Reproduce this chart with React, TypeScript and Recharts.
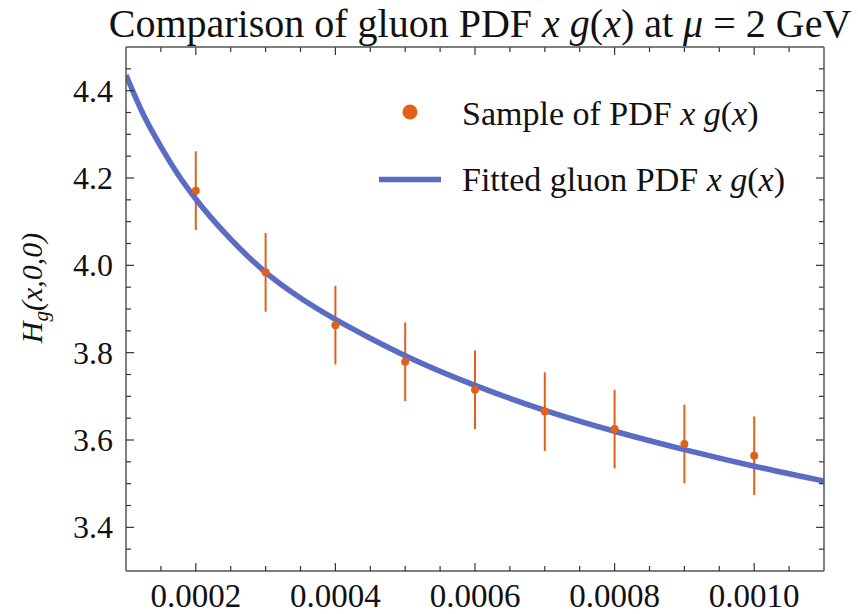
import React from 'react'
import { ComposedChart, Line, Scatter, ErrorBar, XAxis, YAxis } from 'recharts'

// sampled PDF points with error bars
const sampleX = [0.0002, 0.0003, 0.0004, 0.0005, 0.0006, 0.0007, 0.0008, 0.0009, 0.001]
const sampleY = [4.171, 3.984, 3.863, 3.779, 3.715, 3.665, 3.625, 3.591, 3.564]
const sampleErr = [0.09, 0.09, 0.09, 0.09, 0.09, 0.09, 0.09, 0.09, 0.09]

// fitted curve
const fitX = [0.0001, 0.000125, 0.00015, 0.000175, 0.0002, 0.00025, 0.0003, 0.00035, 0.0004, 0.00045, 0.0005, 0.0006, 0.0007, 0.0008, 0.0009, 0.001, 0.0011]
const fitY = [4.436, 4.345, 4.272, 4.207, 4.152, 4.06, 3.984, 3.925, 3.876, 3.833, 3.793, 3.725, 3.668, 3.62, 3.578, 3.54, 3.506]

const xMajor = [0.0002, 0.0004, 0.0006, 0.0008, 0.001]
const xMinor = [0.00015, 0.00025, 0.0003, 0.00035, 0.00045, 0.0005, 0.00055, 0.00065, 0.0007, 0.00075, 0.00085, 0.0009, 0.00095, 0.00105]
const yMajor = [3.4, 3.6, 3.8, 4.0, 4.2, 4.4]
const yMinor = [3.35, 3.45, 3.5, 3.55, 3.65, 3.7, 3.75, 3.85, 3.9, 3.95, 4.05, 4.1, 4.15, 4.25, 4.3, 4.35, 4.45]

const X_DOMAIN = [0.0001, 0.0011]
const Y_DOMAIN = [3.3, 4.5]

const points = sampleX.map((x, i) => ({ x, y: sampleY[i], err: sampleErr[i] }))
const curve = fitX.map((x, i) => ({ x, y: fitY[i] }))

const W = 858
const H = 614
const MARGIN = { top: 47, right: 34, bottom: 0, left: 0 }
const Y_AXIS_W = 126
const X_AXIS_H = 43
const PLOT_TOP = MARGIN.top
const PLOT_RIGHT = W - MARGIN.right

const ORANGE = '#e2611a'
const BLUE = '#5b6cc4'
const FRAME = '#555'
const TICK = '#333'
const FONT = 'Liberation Serif, Times New Roman, serif'
const serif = { fontFamily: FONT }

const isMajor = (list: number[], v: number) => list.some((m) => Math.abs(m - v) < 1e-9)

const MAJOR = 8
const MINOR = 5

// bottom tick also mirrors an inward tick onto the top edge of the frame
// eslint-disable-next-line @typescript-eslint/no-explicit-any
const BottomTick = (props: any) => {
  const { x, y, payload } = props
  const major = isMajor(xMajor, payload.value)
  const len = major ? MAJOR : MINOR
  return (
    <g>
      <line x1={x} y1={y} x2={x} y2={y - len} stroke={TICK} strokeWidth={1.2} />
      <line x1={x} y1={PLOT_TOP} x2={x} y2={PLOT_TOP + len} stroke={TICK} strokeWidth={1.2} />
      {major && (
        <text x={x} y={y + 36} textAnchor="middle" fontSize={33} style={serif} fill="#111">
          {payload.value.toFixed(4)}
        </text>
      )}
    </g>
  )
}

// left tick also mirrors an inward tick onto the right edge of the frame
// eslint-disable-next-line @typescript-eslint/no-explicit-any
const LeftTick = (props: any) => {
  const { x, y, payload } = props
  const major = isMajor(yMajor, payload.value)
  const len = major ? MAJOR : MINOR
  return (
    <g>
      <line x1={x} y1={y} x2={x + len} y2={y} stroke={TICK} strokeWidth={1.2} />
      <line x1={PLOT_RIGHT} y1={y} x2={PLOT_RIGHT - len} y2={y} stroke={TICK} strokeWidth={1.2} />
      {major && (
        <text x={x - 13} y={y + 11} textAnchor="end" fontSize={32} style={serif} fill="#111">
          {payload.value.toFixed(1)}
        </text>
      )}
    </g>
  )
}

// eslint-disable-next-line @typescript-eslint/no-explicit-any
const Dot = (props: any) => <circle cx={props.cx} cy={props.cy} r={4} fill={ORANGE} />

export default function App() {
  const xTicks = [...xMajor, ...xMinor].sort((a, b) => a - b)
  const yTicks = [...yMajor, ...yMinor].sort((a, b) => a - b)
  const axisLine = { stroke: FRAME, strokeWidth: 1.5 }

  return (
    <div style={{ position: 'relative', width: W, height: H, background: '#fff' }}>
      <style>{'body{margin:0}'}</style>
      <ComposedChart width={W} height={H} margin={MARGIN}>
        <XAxis
          xAxisId="b"
          type="number"
          dataKey="x"
          domain={X_DOMAIN}
          allowDataOverflow
          ticks={xTicks}
          interval={0}
          tickSize={0}
          tickMargin={0}
          tickLine={false}
          axisLine={axisLine}
          tick={<BottomTick />}
          height={X_AXIS_H}
        />
        <YAxis
          yAxisId="l"
          type="number"
          domain={Y_DOMAIN}
          allowDataOverflow
          ticks={yTicks}
          interval={0}
          tickSize={0}
          tickMargin={0}
          tickLine={false}
          axisLine={axisLine}
          tick={<LeftTick />}
          width={Y_AXIS_W}
        />
        <Scatter
          xAxisId="b"
          yAxisId="l"
          data={points}
          dataKey="y"
          shape={<Dot />}
          isAnimationActive={false}
        >
          <ErrorBar dataKey="err" direction="y" width={0} stroke={ORANGE} strokeWidth={2} isAnimationActive={false} />
        </Scatter>
        <Line
          xAxisId="b"
          yAxisId="l"
          data={curve}
          dataKey="y"
          type="monotone"
          stroke={BLUE}
          strokeWidth={5.5}
          dot={false}
          isAnimationActive={false}
        />
      </ComposedChart>

      <svg
        width={W}
        height={H}
        style={{ position: 'absolute', left: 0, top: 0, pointerEvents: 'none', fontFamily: FONT }}
      >
        {/* top and right sides of the frame */}
        <line x1={Y_AXIS_W} y1={PLOT_TOP} x2={PLOT_RIGHT} y2={PLOT_TOP} stroke={FRAME} strokeWidth={1.5} />
        <line x1={PLOT_RIGHT} y1={PLOT_TOP} x2={PLOT_RIGHT} y2={H - X_AXIS_H} stroke={FRAME} strokeWidth={1.5} />

        <g fill="#111">
          <text x={480} y={37} textAnchor="middle" fontSize={40}>
            Comparison of gluon PDF{' '}
            <tspan fontStyle="italic">x g</tspan>(<tspan fontStyle="italic">x</tspan>) at{' '}
            <tspan fontStyle="italic">μ</tspan> = 2 GeV
          </text>

          <text x={42} y={288} textAnchor="middle" fontSize={30} transform="rotate(-90 42 288)">
            <tspan fontStyle="italic">H</tspan>
            <tspan fontStyle="italic" fontSize={21} dy={6}>g</tspan>
            <tspan fontStyle="italic" dy={-6}>(x,0,0)</tspan>
          </text>

          <text x={462} y={125} fontSize={34}>
            Sample of PDF <tspan fontStyle="italic">x g</tspan>(<tspan fontStyle="italic">x</tspan>)
          </text>
          <text x={462} y={191} fontSize={34}>
            Fitted gluon PDF <tspan fontStyle="italic">x g</tspan>(<tspan fontStyle="italic">x</tspan>)
          </text>
        </g>

        <circle cx={410} cy={112} r={7.5} fill={ORANGE} />
        <line x1={379} y1={179.5} x2={441} y2={179.5} stroke={BLUE} strokeWidth={5.5} />
      </svg>
    </div>
  )
}
